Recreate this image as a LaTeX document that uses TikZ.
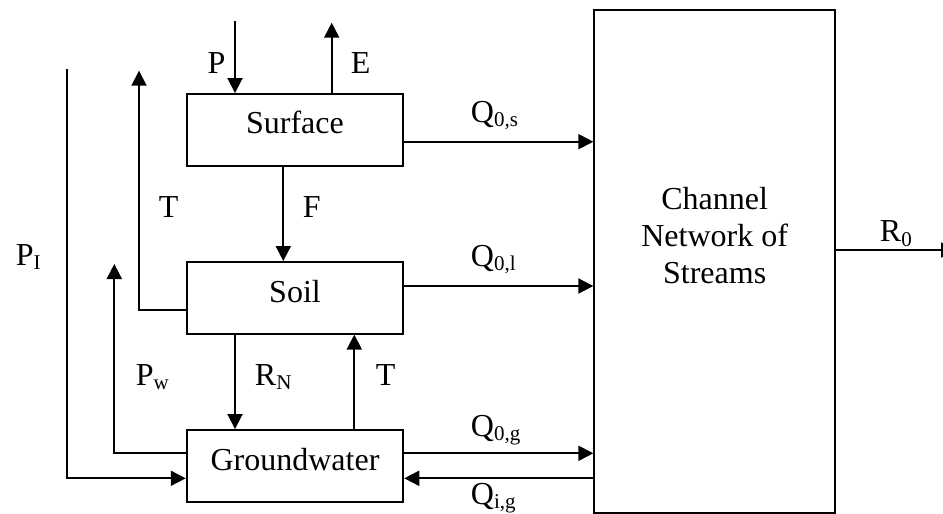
\documentclass[tikz,border=0pt]{standalone}
\usepackage{fontspec}
\setmainfont{Liberation Serif}
\usetikzlibrary{arrows.meta}
\newcommand\lo[1]{\raisebox{-4.5pt}{\fontsize{21}{21}\selectfont #1}}
\begin{document}
\begin{tikzpicture}[x=1pt,y=-1pt, line width=1.9pt,
  box/.style={draw, rectangle, minimum width=216.6pt, minimum height=71.7pt, inner sep=0pt, font=\fontsize{32}{36.7}\selectfont},
  lbl/.style={inner sep=0pt, anchor=base west, font=\fontsize{32}{36.7}\selectfont},
  arr/.style={-{Triangle[length=15pt,width=15pt]}}]
\useasboundingbox (0,0) rectangle (943,514);

% boxes
\node[box, text height=22pt, text depth=15.7pt] (surf) at (295,129.85) {Surface};
\node[box, text height=22pt, text depth=12.2pt] (soil) at (295,297.8) {Soil};
\node[box, text height=22pt, text depth=13.7pt] (gw) at (295,465.85) {Groundwater};
\node[draw, rectangle, minimum width=240.7pt, minimum height=503.3pt, inner sep=0pt] (chan) at (714.65,261.65) {};
\node[lbl, anchor=base, align=center] (chantext) at (714.65,283) {Channel\\Network of\\Streams};

% labels
\node[lbl] (lP) at (206.7,73) {P};
\node[lbl] (lE) at (350,73) {E};
\node[lbl] (lT1) at (158,217) {T};
\node[lbl] (lF) at (302,217) {F};
\node[lbl] (lPw) at (135,385) {P\lo{w}};
\node[lbl] (lRN) at (254,385) {R\lo{N}};
\node[lbl] (lT2) at (375,385) {T};
\node[lbl] (lQ0s) at (470,122) {Q\lo{0,s}};
\node[lbl] (lQ0l) at (470,266) {Q\lo{0,l}};
\node[lbl] (lQ0g) at (470,436) {Q\lo{0,g}};
\node[lbl] (lQig) at (470,504) {Q\lo{i,g}};
\node[lbl] (lR0) at (879,241.7) {R\lo{0}};
\node[lbl] (lPI) at (15,265) {P\lo{I}};

% helper coordinates
\coordinate (pTop) at (235,21);
\coordinate (eTop) at (331.7,22.7);
\coordinate (tTop) at (139,70.7);
\coordinate (pwTop) at (114.3,264);
\coordinate (piTop) at (66.7,69.3);
\coordinate (xF) at (283.3,0);
\coordinate (xT2) at (354.3,0);
\coordinate (y141) at (0,141.7);
\coordinate (y286) at (0,286);
\coordinate (y310) at (0,310);
\coordinate (y453) at (0,453.3);
\coordinate (y478) at (0,478.3);
\coordinate (rEnd) at (956,250);

% connectors
\draw[arr] (pTop) -- (pTop |- surf.north);
\draw[arr] (eTop |- surf.north) -- (eTop);
\draw[arr] (surf.south -| xF) -- (soil.north -| xF);
\draw[arr] (soil.west |- y310) -| (tTop);
\draw[arr] (gw.west |- y453) -| (pwTop);
\draw[arr] (piTop) |- (gw.west |- y478);
\draw[arr] (soil.south -| pTop) -- (gw.north -| pTop);
\draw[arr] (gw.north -| xT2) -- (soil.south -| xT2);
\draw[arr] (surf.east |- y141) -- (chan.west |- y141);
\draw[arr] (soil.east |- y286) -- (chan.west |- y286);
\draw[arr] (gw.east |- y453) -- (chan.west |- y453);
\draw[arr] (chan.west |- y478) -- (gw.east |- y478);
\draw[arr] (chan.east |- rEnd) -- (rEnd);
\end{tikzpicture}
\end{document}
